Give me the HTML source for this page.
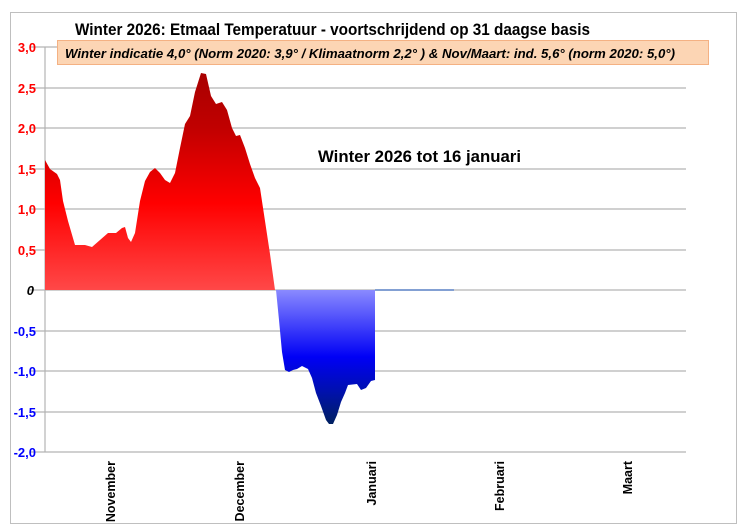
<!DOCTYPE html>
<html><head><meta charset="utf-8"><style>
html,body{margin:0;padding:0;background:#fff;}
svg{display:block;font-family:"Liberation Sans",Calibri,sans-serif;}
</style></head><body>
<svg width="747" height="529" viewBox="0 0 747 529" xmlns="http://www.w3.org/2000/svg">
<defs>
<linearGradient id="rg" x1="0" y1="73" x2="0" y2="290" gradientUnits="userSpaceOnUse">
<stop offset="0" stop-color="#a80000"/>
<stop offset="0.25" stop-color="#c00000"/>
<stop offset="0.6" stop-color="#ff0000"/>
<stop offset="1" stop-color="#ff4848"/>
</linearGradient>
<linearGradient id="bg" x1="0" y1="290" x2="0" y2="424" gradientUnits="userSpaceOnUse">
<stop offset="0" stop-color="#8a8aff"/>
<stop offset="0.5" stop-color="#0000f5"/>
<stop offset="0.75" stop-color="#0010b0"/>
<stop offset="1" stop-color="#002060"/>
</linearGradient>
</defs>
<rect x="10.5" y="12.5" width="726" height="511" fill="#fff" stroke="#bfbfbf"/>
<g stroke="#b3b3b3" stroke-width="1.2">
<line x1="30" y1="47" x2="686" y2="47"/>
<line x1="30" y1="88" x2="686" y2="88"/>
<line x1="30" y1="128" x2="686" y2="128"/>
<line x1="30" y1="169" x2="686" y2="169"/>
<line x1="30" y1="209" x2="686" y2="209"/>
<line x1="30" y1="250" x2="686" y2="250"/>
<line x1="30" y1="290" x2="686" y2="290"/>
<line x1="30" y1="331" x2="686" y2="331"/>
<line x1="30" y1="371" x2="686" y2="371"/>
<line x1="30" y1="412" x2="686" y2="412"/>
<line x1="30" y1="452" x2="686" y2="452"/>
<line x1="45" y1="47" x2="45" y2="452"/>
</g>
<path fill="url(#rg)" d="M45,290 L45,160 L50,169 L57,174 L60,180 L63,201 L68,221 L75,245 L85,245 L92,247 L100,240 L108,233 L116,233 L122,228 L125,227 L128,238 L131,242 L135,233 L140,201 L145,181 L150,172 L155,168 L160,173 L165,180 L170,183 L175,173 L180,148 L185,124 L190,116 L195,92 L201,73 L206,74 L211,96 L216,104 L222,102 L227,110 L232,128 L236,136 L240,135 L245,148 L250,164 L255,178 L260,188 L265,221 L270,254 L275,290 Z"/>
<path fill="url(#bg)" d="M276,290 L279,320 L282,352 L285,370 L289,372 L293,370 L297,369 L302,366 L308,369 L312,378 L316,393 L321,406 L326,420 L329,424 L333,424 L337,415 L341,402 L345,393 L348,385 L357,384 L361,390 L366,388 L371,381 L375,380 L375,290 Z"/>
<line x1="375" y1="290" x2="454" y2="290" stroke="#4472c4" stroke-width="1.2"/>
<g font-size="13" font-weight="bold" text-anchor="end">
<text x="36" y="52" fill="#ff0000">3,0</text>
<text x="36" y="93" fill="#ff0000">2,5</text>
<text x="36" y="133" fill="#ff0000">2,0</text>
<text x="36" y="174" fill="#ff0000">1,5</text>
<text x="36" y="214" fill="#ff0000">1,0</text>
<text x="36" y="255" fill="#ff0000">0,5</text>
<text x="34" y="295" fill="#000" font-style="italic">0</text>
<text x="36" y="336" fill="#0000ff">-0,5</text>
<text x="36" y="376" fill="#0000ff">-1,0</text>
<text x="36" y="417" fill="#0000ff">-1,5</text>
<text x="36" y="457" fill="#0000ff">-2,0</text>
</g>
<text x="75" y="35" font-size="16.5" font-weight="bold" fill="#000" textLength="515" lengthAdjust="spacingAndGlyphs">Winter 2026:  Etmaal Temperatuur - voortschrijdend op 31 daagse basis</text>
<rect x="57.5" y="40.5" width="651" height="24" fill="#fcd5b4" stroke="#f4b183"/>
<text x="65" y="58" font-size="13" font-weight="bold" font-style="italic" fill="#000" textLength="610" lengthAdjust="spacingAndGlyphs">Winter indicatie 4,0°  (Norm  2020: 3,9° / Klimaatnorm 2,2° ) &amp; Nov/Maart: ind. 5,6° (norm 2020: 5,0°)</text>
<text x="318" y="162" font-size="17" font-weight="bold" fill="#000" textLength="203" lengthAdjust="spacingAndGlyphs">Winter 2026 tot 16 januari</text>
<g font-size="12.5" font-weight="bold" fill="#000" text-anchor="end">
<text transform="translate(115,461) rotate(-90)">November</text>
<text transform="translate(244,461) rotate(-90)">December</text>
<text transform="translate(376,461) rotate(-90)">Januari</text>
<text transform="translate(504,461) rotate(-90)">Februari</text>
<text transform="translate(632,461) rotate(-90)">Maart</text>
</g>
</svg>
</body></html>
